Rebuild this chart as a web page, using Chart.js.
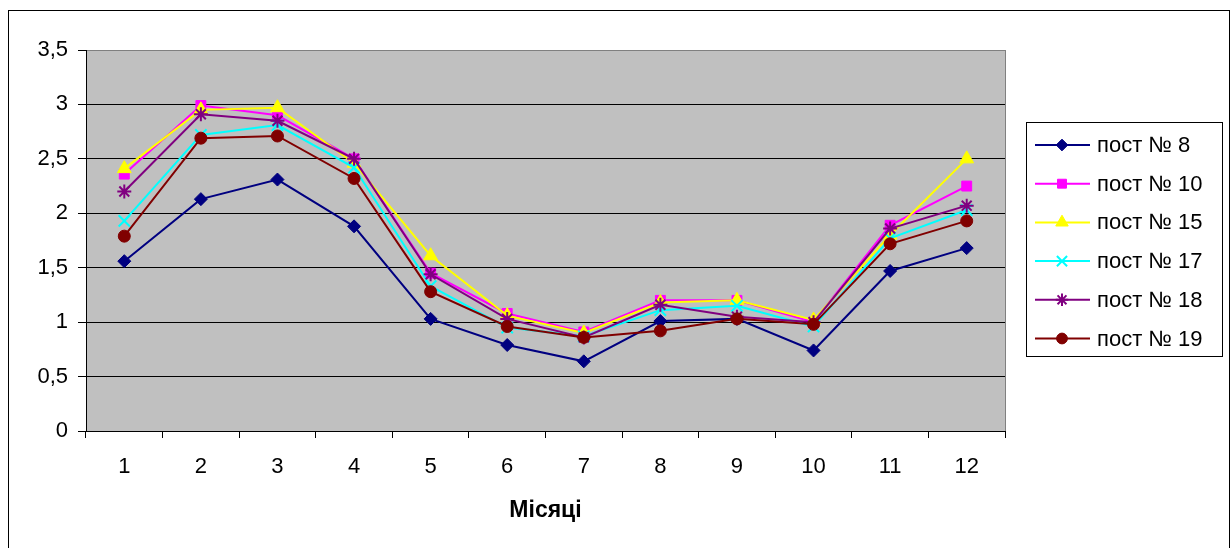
<!DOCTYPE html>
<html><head><meta charset="utf-8">
<script src="https://cdn.jsdelivr.net/npm/chart.js@4/dist/chart.umd.min.js"></script>
<style>html,body{margin:0;padding:0;background:#fff;}#wrap{width:1232px;height:548px;position:relative;}</style>
</head><body><div id="wrap"><canvas id="c" width="1232" height="548"></canvas></div>
<script>
const months = ['1','2','3','4','5','6','7','8','9','10','11','12'];
const post8  = [1.56, 2.13, 2.31, 1.88, 1.03, 0.79, 0.64, 1.01, 1.03, 0.74, 1.47, 1.68];
const post10 = [2.36, 2.99, 2.90, 2.50, 1.45, 1.08, 0.91, 1.20, 1.20, 1.00, 1.89, 2.25];
const post15 = [2.41, 2.95, 2.97, 2.46, 1.61, 1.06, 0.90, 1.18, 1.20, 1.02, 1.80, 2.50];
const post17 = [1.93, 2.72, 2.81, 2.42, 1.33, 0.95, 0.87, 1.11, 1.15, 0.96, 1.77, 2.03];
const post18 = [2.20, 2.91, 2.85, 2.50, 1.44, 1.03, 0.86, 1.16, 1.05, 1.00, 1.86, 2.07];
const post19 = [1.79, 2.69, 2.71, 2.32, 1.28, 0.96, 0.86, 0.92, 1.03, 0.98, 1.72, 1.93];
const seriesNames = ['пост № 8','пост № 10','пост № 15','пост № 17','пост № 18','пост № 19'];
const yTicks = [0, 0.5, 1, 1.5, 2, 2.5, 3, 3.5];
const xTitle = 'Місяці';

const FONT = '"Liberation Sans", Arial, sans-serif';
const styles = [
  {c:'#000080', p:'rectRot', r:6.5},
  {c:'#FF00FF', p:'rect', r:7},
  {c:'#FFFF00', p:'triangle', r:8},
  {c:'#00FFFF', p:'crossRot', r:8},
  {c:'#800080', p:'star', r:7},
  {c:'#800000', p:'circle', r:6}
];
const values = [post8, post10, post15, post17, post18, post19];
const datasets = values.map((v,i)=>({
  label: seriesNames[i], data: v,
  borderColor: styles[i].c, backgroundColor: styles[i].c,
  pointBackgroundColor: styles[i].c, pointBorderColor: styles[i].c,
  pointStyle: styles[i].p, pointRadius: styles[i].r, pointHoverRadius: styles[i].r,
  pointBorderWidth: (styles[i].p==='crossRot'||styles[i].p==='star') ? 2 : 1,
  borderWidth: 2, tension: 0, order: 6 - i
}));

const framePlugin = {
  id:'frame',
  beforeDraw(chart){
    const ctx = chart.ctx, a = chart.chartArea;
    ctx.save();
    ctx.fillStyle = '#fff'; ctx.fillRect(0,0,chart.width,chart.height);
    ctx.fillStyle = '#C0C0C0'; ctx.fillRect(a.left, a.top, a.right-a.left, a.bottom-a.top);
    ctx.strokeStyle = '#000'; ctx.lineWidth = 1;
    ctx.strokeRect(8.5, 10.5, 1221, 545);
    ctx.restore();
  },
  afterDatasetsDraw(chart){
    const ctx = chart.ctx, a = chart.chartArea;
    ctx.save();
    ctx.strokeStyle = '#808080'; ctx.lineWidth = 1;
    ctx.beginPath(); ctx.moveTo(Math.round(a.right)+0.5, a.top); ctx.lineTo(Math.round(a.right)+0.5, a.bottom); ctx.stroke();
    // legend
    const lx = 1026.5, ly = 122.5, lw = 196, lh = 234;
    ctx.fillStyle = '#fff'; ctx.fillRect(lx, ly, lw, lh);
    ctx.strokeStyle = '#000'; ctx.strokeRect(lx, ly, lw, lh);
    chart.data.datasets.forEach((ds,i)=>{
      const y = 145 + i*38.7;
      ctx.strokeStyle = ds.borderColor; ctx.lineWidth = 2;
      ctx.beginPath(); ctx.moveTo(1035, y); ctx.lineTo(1090, y); ctx.stroke();
      ctx.fillStyle = ds.pointBackgroundColor; ctx.strokeStyle = ds.pointBorderColor;
      ctx.lineWidth = ds.pointBorderWidth;
      Chart.helpers.drawPoint(ctx, {pointStyle: ds.pointStyle, radius: ds.pointRadius*0.9, borderWidth: ds.pointBorderWidth, rotation:0}, 1062, y);
      ctx.fillStyle = '#000'; ctx.font = '22px ' + FONT;
      ctx.textBaseline = 'middle'; ctx.textAlign = 'left';
      ctx.fillText(ds.label, 1097, y + 1);
    });
    ctx.restore();
  }
};

new Chart(document.getElementById('c'), {
  type:'line',
  data:{labels: months, datasets},
  options:{
    responsive:false, animation:false, devicePixelRatio:1,
    layout:{padding:{left:0, top:50, right:227, bottom:0}},
    plugins:{legend:{display:false}, tooltip:{enabled:false}},
    scales:{
      x:{
        offset:true,
        grid:{offset:true, drawOnChartArea:false, drawTicks:true, tickLength:7, tickColor:'#000', lineWidth:1},
        border:{display:true, color:'#000', width:1},
        ticks:{color:'#000', font:{family:FONT, size:22}, padding:16, maxRotation:0},
        title:{display:true, text:xTitle, color:'#000', font:{family:FONT, size:23, weight:'bold'}, padding:{top:0, bottom:24}},
        afterFit(s){ s.height = 117; }
      },
      y:{
        min:0, max:3.5,
        afterBuildTicks(s){ s.ticks = yTicks.map(v=>({value:v})); },
        grid:{color:(c)=> c.tick && c.tick.value===3.5 ? '#808080' : '#000', tickColor:'#000', tickLength:8, lineWidth:1},
        border:{display:true, color:'#000', width:1},
        ticks:{color:'#000', font:{family:FONT, size:22}, padding:10,
          callback:(v)=> String(v).replace('.', ',')},
        afterFit(s){ s.width = 86; }
      }
    }
  },
  plugins:[framePlugin]
});
</script></body></html>
